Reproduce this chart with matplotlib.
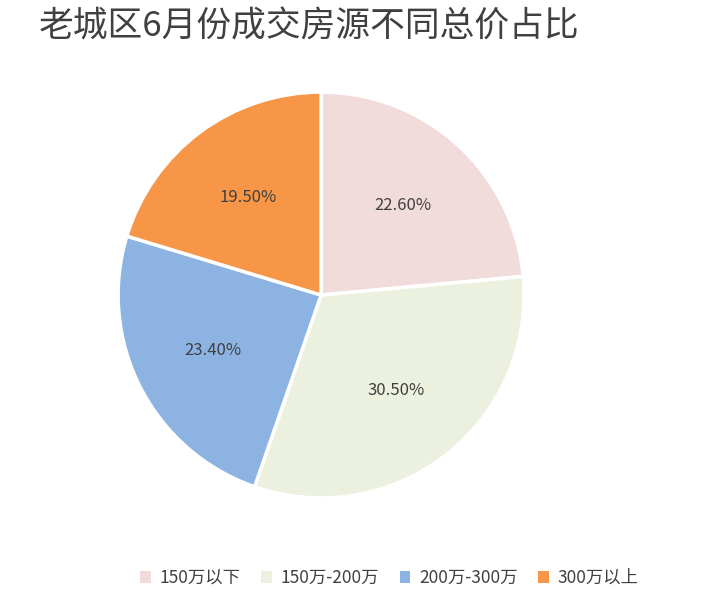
import matplotlib
matplotlib.use("Agg")
import matplotlib.pyplot as plt
from matplotlib.patches import Patch

plt.rcParams["font.family"] = ["Noto Sans CJK SC", "DejaVu Sans"]

labels = ["150万以下", "150万-200万", "200万-300万", "300万以上"]
shares = [22.6, 30.5, 23.4, 19.5]
colors = ["#f2dcdb", "#ebf1de", "#8db3e2", "#f79646"]

fig = plt.figure(figsize=(7.08, 5.96), dpi=100)
fig.text(0.055, 0.955, "老城区6月份成交房源不同总价占比", fontsize=25, color="#404040", va="center")

ax = fig.add_axes([0.164, 0.161, 0.579, 0.688])
wedges, texts = ax.pie(shares, colors=colors, startangle=90, counterclock=False,
                       wedgeprops={"edgecolor": "white", "linewidth": 2.5})
for w, s in zip(wedges, shares):
    import numpy as np
    ang = np.deg2rad((w.theta1 + w.theta2) / 2)
    ax.text(0.6 * np.cos(ang), 0.6 * np.sin(ang), f"{s:.2f}%", ha="center", va="center",
            fontsize=12, color="#404040")
ax.set_xlim(-1.01, 1.01)
ax.set_ylim(-1.01, 1.01)
ax.set_aspect("equal")

handles = [Patch(facecolor=c, edgecolor="none") for c in colors]
fig.legend(handles, labels, loc="center", bbox_to_anchor=(0.55, 0.03), ncol=4,
           frameon=False, fontsize=12.5, handlelength=0.6, handleheight=0.6,
           columnspacing=1.2, handletextpad=0.5, labelcolor="#404040")

fig.savefig("out.png", dpi=100)
